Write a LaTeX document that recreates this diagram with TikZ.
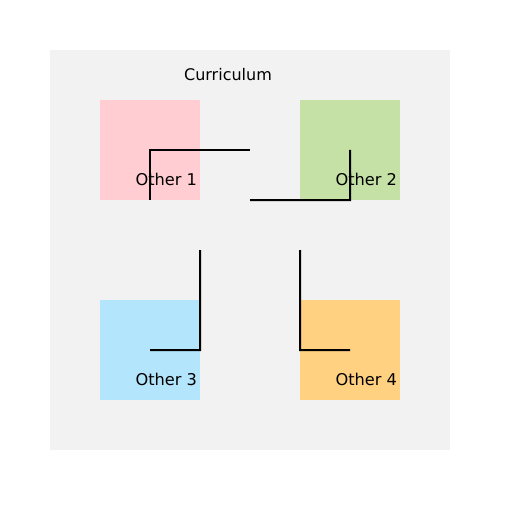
\documentclass[tikz,border=0pt]{standalone}
\usepackage{fontspec}
\setmainfont{DejaVu Sans}
\definecolor{bgc}{HTML}{F2F2F2}
\definecolor{c1}{HTML}{FFCDD2}
\definecolor{c2}{HTML}{C5E1A5}
\definecolor{c3}{HTML}{B3E5FC}
\definecolor{c4}{HTML}{FFD180}
\begin{document}
\begin{tikzpicture}[x=1bp,y=-1bp,
  sq/.style={minimum width=100bp,minimum height=100bp,inner sep=0,outer sep=0,draw=none},
  lbl/.style={inner sep=0,outer sep=0,anchor=base east,font=\fontsize{16.2bp}{19bp}\selectfont,text=black},
  conn/.style={draw=black,line width=2bp,line cap=butt,line join=miter}]
\useasboundingbox (0,0) rectangle (512,512);
\fill[bgc] (50,50) rectangle (450,450);
\node[inner sep=0,anchor=base,font=\fontsize{16bp}{19bp}\selectfont,text=black] (title) at (228,81) {Curriculum};
\node[sq,fill=c1] (s1) at (150,150) {};
\node[sq,fill=c2] (s2) at (350,150) {};
\node[sq,fill=c3] (s3) at (150,350) {};
\node[sq,fill=c4] (s4) at (350,350) {};
\node[lbl] (l1) at (197,185.5) {Other 1};
\node[lbl] (l2) at (397,185.5) {Other 2};
\node[lbl] (l3) at (197,385.5) {Other 3};
\node[lbl] (l4) at (397,385.5) {Other 4};
\coordinate (a1) at (250,150);
\coordinate (a2) at (250,200);
\coordinate (a3) at (200,250);
\coordinate (a4) at (300,250);
\draw[conn] (s1.south) -- (s1.center) -- (a1);
\draw[conn] (a2) -- (s2.south) -- (s2.center);
\draw[conn] (a3) -- (s3.east) -- (s3.center);
\draw[conn] (a4) -- (s4.west) -- (s4.center);
\end{tikzpicture}
\end{document}
